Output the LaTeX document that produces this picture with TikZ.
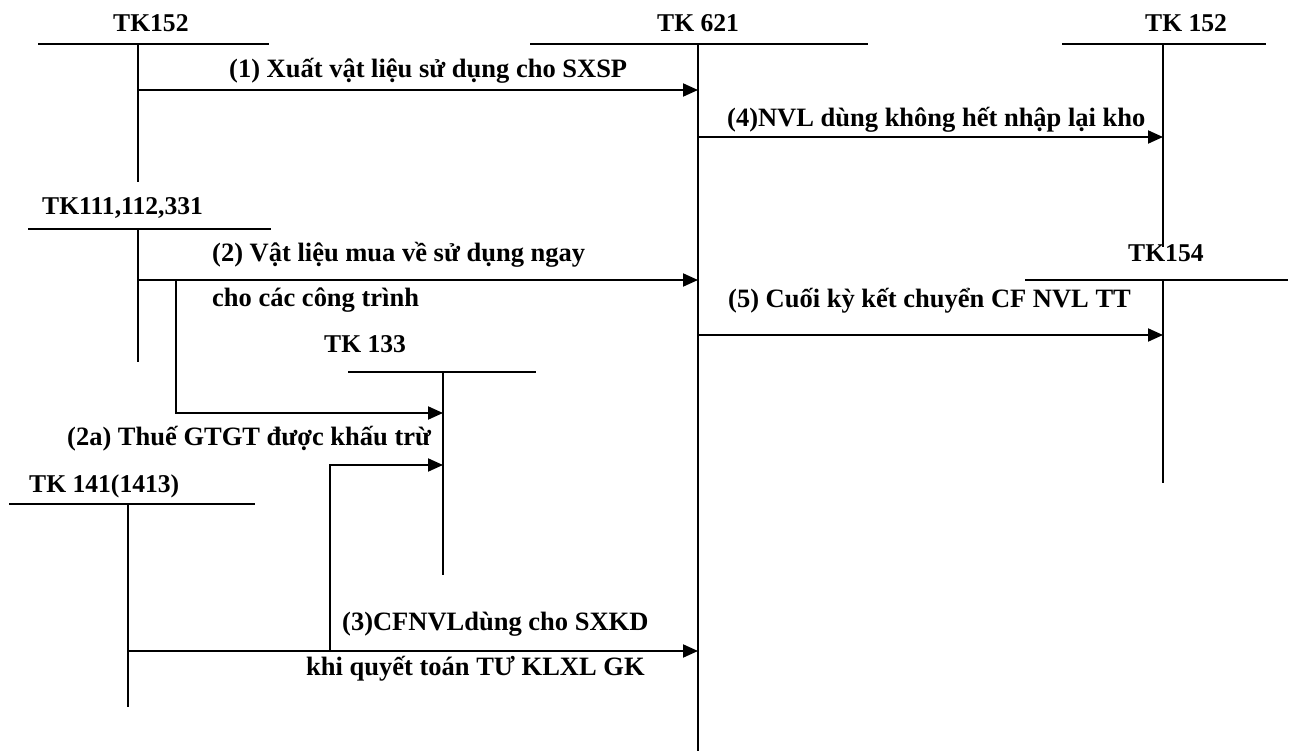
\documentclass[tikz,border=0pt]{standalone}
\usepackage{fontspec}
\setmainfont{Liberation Serif}
\usetikzlibrary{arrows.meta}
\begin{document}
\begin{tikzpicture}[x=1pt,y=-1pt,
  acct/.style={line width=2pt},
  flow/.style={line width=2pt,-{Triangle[length=15pt,width=13pt]}},
  lbl/.style={font=\bfseries\fontsize{26.5}{30}\selectfont,inner sep=0pt,anchor=base west},
  ttl/.style={font=\bfseries\fontsize{25.6}{30}\selectfont,inner sep=0pt,anchor=base west}]
\useasboundingbox (0,0) rectangle (1291,751);

% ---- T-account frames: left/right ends of the bar, top/bottom of the stem
\coordinate (k152l) at (38,44);   \coordinate (k152r) at (269,44);
\coordinate (k152t) at (138,44);  \coordinate (k152b) at (138,182);
\coordinate (k621l) at (530,44);  \coordinate (k621r) at (868,44);
\coordinate (k621t) at (698,44);  \coordinate (k621b) at (698,751);
\coordinate (r152l) at (1062,44); \coordinate (r152r) at (1266,44);
\coordinate (r152t) at (1163,44); \coordinate (r152b) at (1163,247);
\coordinate (k111l) at (28,229);  \coordinate (k111r) at (271,229);
\coordinate (k111t) at (138,229); \coordinate (k111b) at (138,362);
\coordinate (k154l) at (1025,280);\coordinate (k154r) at (1288,280);
\coordinate (k154t) at (1163,280);\coordinate (k154b) at (1163,483);
\coordinate (k133l) at (348,372); \coordinate (k133r) at (536,372);
\coordinate (k133t) at (443,372); \coordinate (k133b) at (443,575);
\coordinate (k141l) at (9,504);   \coordinate (k141r) at (255,504);
\coordinate (k141t) at (128,504); \coordinate (k141b) at (128,707);

\foreach \k in {k152,k621,r152,k111,k154,k133,k141}{
  \draw[acct] (\k l) -- (\k r);
  \draw[acct] (\k t) -- (\k b);
}

% ---- account titles
\node[ttl] (t152)  at (113,32)  {TK152};
\node[ttl] (t621)  at (657,32)  {TK 621};
\node[ttl] (t152r) at (1145,32) {TK 152};
\node[ttl] (t111)  at (42,215)  {TK111,112,331};
\node[ttl] (t154)  at (1128,262){TK154};
\node[ttl] (t133)  at (324,353) {TK 133};
\node[ttl] (t141)  at (29,492)  {TK 141(1413)};

% ---- posting end points
\coordinate (s1) at (138,90);  \coordinate (e1) at (698,90);
\coordinate (s4) at (698,137); \coordinate (e4) at (1163,137);
\coordinate (s2) at (138,280); \coordinate (e2) at (698,280);
\coordinate (b2) at (176,280); \coordinate (c2) at (176,413); \coordinate (e2a) at (443,413);
\coordinate (s5) at (698,335); \coordinate (e5) at (1163,335);
\coordinate (s3) at (128,651); \coordinate (e3) at (698,651);
\coordinate (b3) at (330,651); \coordinate (c3) at (330,465); \coordinate (e3a) at (443,465);

\draw[flow] (s1) -- (e1);
\draw[flow] (s4) -- (e4);
\draw[flow] (s2) -- (e2);
\draw[flow] (b2) -- (c2) -- (e2a);
\draw[flow] (s5) -- (e5);
\draw[flow] (s3) -- (e3);
\draw[flow] (b3) -- (c3) -- (e3a);

% ---- posting descriptions
\node[lbl] (l1)  at (229,78)  {(1) Xuất vật liệu sử dụng cho SXSP};
\node[lbl] (l4)  at (727,127) {(4)NVL dùng không hết nhập lại kho};
\node[lbl] (l2)  at (212,262) {(2) Vật liệu mua về sử dụng ngay};
\node[lbl] (l2b) at (212,307) {cho các công trình};
\node[lbl] (l5)  at (728,308) {(5) Cuối kỳ kết chuyển CF NVL TT};
\node[lbl] (l2a) at (67,445)  {(2a) Thuế GTGT được khấu trừ};
\node[lbl] (l3)  at (342,630) {(3)CFNVLdùng cho SXKD};
\node[lbl] (l3b) at (306,675) {khi quyết toán TƯ KLXL GK};
\end{tikzpicture}
\end{document}
